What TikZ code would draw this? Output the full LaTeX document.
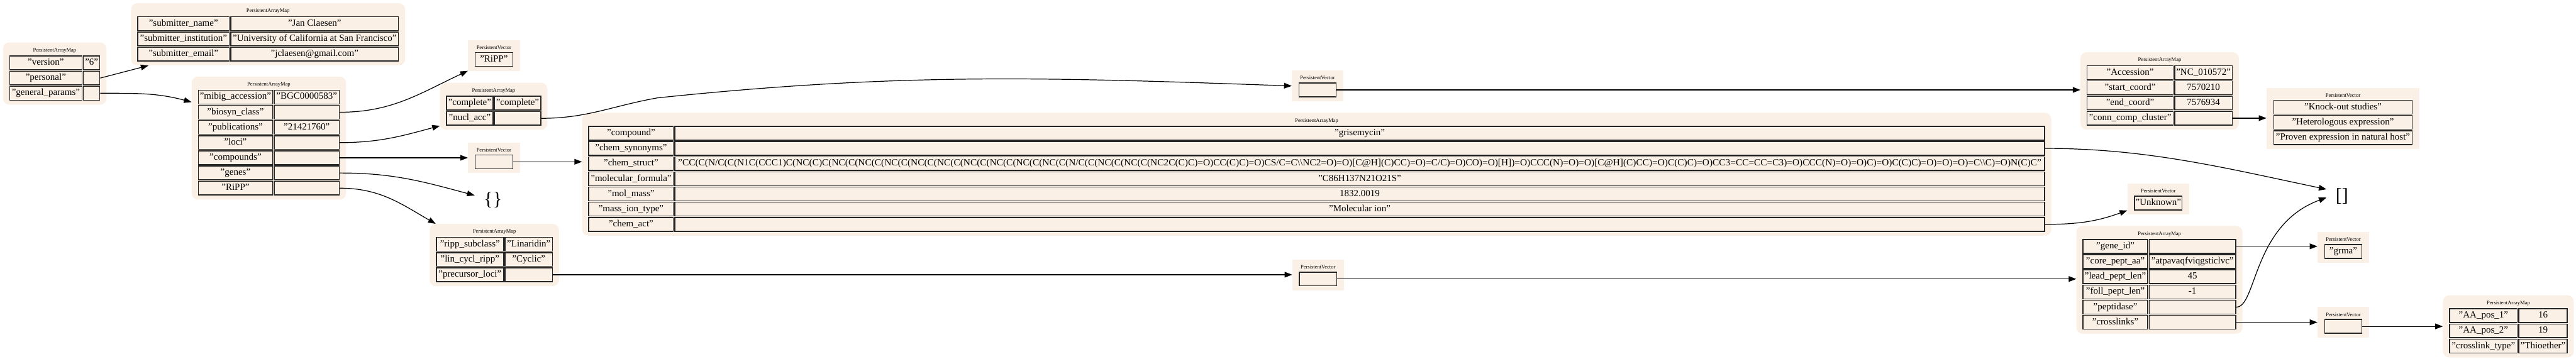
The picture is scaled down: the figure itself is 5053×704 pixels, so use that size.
\documentclass[tikz,border=0pt]{standalone}
\usepackage{fontspec}
\setmainfont{Liberation Serif}
\usetikzlibrary{positioning,arrows.meta,calc,fit,backgrounds}

\definecolor{mapfill}{RGB}{250,240,230}
\newcommand{\cellfont}{\fontsize{18.5}{21}\selectfont}
\newcommand{\ttlfont}{\fontsize{10.5}{12}\selectfont}
\newcommand{\grisesmiles}{"CC(C(N/C(C(N1C(CCC1)C(NC(C)C(NC(C(NC(C(NC(C(NC(C(NC(C(NC(C(NC(C(NC(C(NC(C(N/C(C(NC(C(NC(C(NC2C(C)C)=O)CC(C)C)=O)CS/C=C\textbackslash\textbackslash NC2=O)=O)[C@H](C)CC)=O)=C/C)=O)CO)=O)[H])=O)CCC(N)=O)=O)[C@H](C)CC)=O)C(C)C)=O)CC3=CC=CC=C3)=O)CCC(N)=O)=O)C)=O)C(C)C)=O)=O)=O)=C\textbackslash\textbackslash C)=O)N(C)C"}

\begin{document}
\begin{tikzpicture}[
  x=1pt, y=1pt,
  node distance=1pt,
  fld/.style={draw=black!85, line width=1.8pt, fill=mapfill, minimum width=#1, minimum height=27pt,
    inner xsep=2pt, inner ysep=1pt, text height=13pt, text depth=4pt, font=\cellfont},
  ttl/.style={font=\ttlfont, inner xsep=0pt, inner ysep=3pt, above=2pt},
  mapbg/.style={fill=mapfill, rounded corners=12pt, inner xsep=12pt, inner ysep=8pt},
  vecbg/.style={fill=mapfill, inner xsep=13pt, inner ysep=8pt},
  brk/.style={font=\fontsize{37}{40}\selectfont, inner xsep=18pt, inner ysep=3pt},
  link/.style={-{Triangle[length=15pt, width=11pt]}, line width=1.5pt}
]
\useasboundingbox (0,0) rectangle (5053,-704);

% top-level map
\node[fld=142pt, anchor=north west] (rk1) at (18,-109) {"version"};
\node[fld=142pt, below=of rk1] (rk2) {"personal"};
\node[fld=142pt, below=of rk2] (rk3) {"general\_params"};
\node[fld=32pt, right=of rk1] (rv1) {"6"};
\node[fld=32pt, right=of rk2] (rv2) {};
\node[fld=32pt, right=of rk3] (rv3) {};
\node[ttl] (rt) at ($(rk1.north west)!.5!(rv1.north east)$) {PersistentArrayMap};

% submitter
\node[fld=180pt, anchor=north west] (sk1) at (269,-32) {"submitter\_name"};
\node[fld=180pt, below=of sk1] (sk2) {"submitter\_institution"};
\node[fld=180pt, below=of sk2] (sk3) {"submitter\_email"};
\node[fld=329pt, right=of sk1] (sv1) {"Jan Claesen"};
\node[fld=329pt, right=of sk2] (sv2) {"University of California at San Francisco"};
\node[fld=329pt, right=of sk3] (sv3) {"jclaesen@gmail.com"};
\node[ttl] (st) at ($(sk1.north west)!.5!(sv1.north east)$) {PersistentArrayMap};

% general params
\node[fld=146pt, anchor=north west] (mk1) at (388,-176) {"mibig\_accession"};
\node[fld=146pt, below=of mk1] (mk2) {"biosyn\_class"};
\node[fld=146pt, below=of mk2] (mk3) {"publications"};
\node[fld=146pt, below=of mk3] (mk4) {"loci"};
\node[fld=146pt, below=of mk4] (mk5) {"compounds"};
\node[fld=146pt, below=of mk5] (mk6) {"genes"};
\node[fld=146pt, below=of mk6] (mk7) {"RiPP"};
\node[fld=128pt, right=of mk1] (mv1) {"BGC0000583"};
\node[fld=128pt, right=of mk2] (mv2) {};
\node[fld=128pt, right=of mk3] (mv3) {"21421760"};
\node[fld=128pt, right=of mk4] (mv4) {};
\node[fld=128pt, right=of mk5] (mv5) {};
\node[fld=128pt, right=of mk6] (mv6) {};
\node[fld=128pt, right=of mk7] (mv7) {};
\node[ttl] (mt) at ($(mk1.north west)!.5!(mv1.north east)$) {PersistentArrayMap};

% loci
\node[fld=91pt, anchor=north west] (ck1) at (875,-188) {"complete"};
\node[fld=91pt, below=of ck1] (ck2) {"nucl\_acc"};
\node[fld=91pt, right=of ck1] (cv1) {"complete"};
\node[fld=91pt, right=of ck2] (cv2) {};
\node[ttl] (ct) at ($(ck1.north west)!.5!(cv1.north east)$) {PersistentArrayMap};

% vectors next to the general params
\node[fld=74pt, anchor=north west] (rpc) at (931,-102) {"RiPP"};
\node[ttl] (rpt) at (rpc.north) {PersistentVector};
\node[fld=74pt, anchor=north west] (cpc) at (931,-303) {};
\node[ttl] (cpt) at (cpc.north) {PersistentVector};
\node[brk] (emptymap) at (967,-393) {\{\}};

% RiPP
\node[fld=132pt, anchor=north west] (pk1) at (855,-465) {"ripp\_subclass"};
\node[fld=132pt, below=of pk1] (pk2) {"lin\_cycl\_ripp"};
\node[fld=132pt, below=of pk2] (pk3) {"precursor\_loci"};
\node[fld=93pt, right=of pk1] (pv1) {"Linaridin"};
\node[fld=93pt, right=of pk2] (pv2) {"Cyclic"};
\node[fld=93pt, right=of pk3] (pv3) {};
\node[ttl] (ppt) at ($(pk1.north west)!.5!(pv1.north east)$) {PersistentArrayMap};

% compound
\node[fld=166pt, anchor=north west] (kk1) at (1154,-247) {"compound"};
\node[fld=166pt, below=of kk1] (kk2) {"chem\_synonyms"};
\node[fld=166pt, below=of kk2] (kk3) {"chem\_struct"};
\node[fld=166pt, below=of kk3] (kk4) {"molecular\_formula"};
\node[fld=166pt, below=of kk4] (kk5) {"mol\_mass"};
\node[fld=166pt, below=of kk5] (kk6) {"mass\_ion\_type"};
\node[fld=166pt, below=of kk6] (kk7) {"chem\_act"};
\node[fld=2687pt, right=of kk1] (kv1) {"grisemycin"};
\node[fld=2687pt, right=of kk2] (kv2) {};
\node[fld=2687pt, right=of kk3] (kv3) {\resizebox{2674pt}{\height}{\grisesmiles}};
\node[fld=2687pt, right=of kk4] (kv4) {"C86H137N21O21S"};
\node[fld=2687pt, right=of kk5] (kv5) {1832.0019};
\node[fld=2687pt, right=of kk6] (kv6) {"Molecular ion"};
\node[fld=2687pt, right=of kk7] (kv7) {};
\node[ttl] (kt) at ($(kk1.north west)!.5!(kv1.north east)$) {PersistentArrayMap};

% middle vectors
\node[fld=73pt, anchor=north west] (nvc) at (2547,-162) {};
\node[ttl] (nvt) at (nvc.north) {PersistentVector};
\node[fld=73pt, anchor=north west] (pcc) at (2548,-533) {};
\node[ttl] (pct) at (pcc.north) {PersistentVector};

% accession
\node[fld=169pt, anchor=north west] (ak1) at (4093,-128) {"Accession"};
\node[fld=169pt, below=of ak1] (ak2) {"start\_coord"};
\node[fld=169pt, below=of ak2] (ak3) {"end\_coord"};
\node[fld=169pt, below=of ak3] (ak4) {"conn\_comp\_cluster"};
\node[fld=113pt, right=of ak1] (av1) {"NC\_010572"};
\node[fld=113pt, right=of ak2] (av2) {7570210};
\node[fld=113pt, right=of ak3] (av3) {7576934};
\node[fld=113pt, right=of ak4] (av4) {};
\node[ttl] (acct) at ($(ak1.north west)!.5!(av1.north east)$) {PersistentArrayMap};

% evidence
\node[fld=272pt, anchor=north west] (ev1) at (4459,-196) {"Knock-out studies"};
\node[fld=272pt, below=of ev1] (ev2) {"Heterologous expression"};
\node[fld=272pt, below=of ev2] (ev3) {"Proven expression in natural host"};
\node[ttl] (et) at (ev1.north) {PersistentVector};

\node[fld=92pt, anchor=north west] (unc) at (4186,-384) {"Unknown"};
\node[ttl] (ut) at (unc.north) {PersistentVector};
\node[brk] (emptyvec) at (4594,-385) {[]};

% gene
\node[fld=127pt, anchor=north west] (gk1) at (4085,-469) {"gene\_id"};
\node[fld=127pt, below=of gk1] (gk2) {"core\_pept\_aa"};
\node[fld=127pt, below=of gk2] (gk3) {"lead\_pept\_len"};
\node[fld=127pt, below=of gk3] (gk4) {"foll\_pept\_len"};
\node[fld=127pt, below=of gk4] (gk5) {"peptidase"};
\node[fld=127pt, below=of gk5] (gk6) {"crosslinks"};
\node[fld=170pt, right=of gk1] (gv1) {};
\node[fld=170pt, right=of gk2] (gv2) {"atpavaqfviqgsticlvc"};
\node[fld=170pt, right=of gk3] (gv3) {45};
\node[fld=170pt, right=of gk4] (gv4) {-1};
\node[fld=170pt, right=of gk5] (gv5) {};
\node[fld=170pt, right=of gk6] (gv6) {};
\node[ttl] (gt) at ($(gk1.north west)!.5!(gv1.north east)$) {PersistentArrayMap};

\node[fld=73pt, anchor=north west] (grc) at (4559,-479) {"grma"};
\node[ttl] (grt) at (grc.north) {PersistentVector};
\node[fld=73pt, anchor=north west] (xlc) at (4559,-626) {};
\node[ttl] (xlt) at (xlc.north) {PersistentVector};

% crosslink
\node[fld=133pt, anchor=north west] (xk1) at (4804,-605) {"AA\_pos\_1"};
\node[fld=133pt, below=of xk1] (xk2) {"AA\_pos\_2"};
\node[fld=133pt, below=of xk2] (xk3) {"crosslink\_type"};
\node[fld=95pt, right=of xk1] (xv1) {16};
\node[fld=95pt, right=of xk2] (xv2) {19};
\node[fld=95pt, right=of xk3] (xv3) {"Thioether"};
\node[ttl] (xt) at ($(xk1.north west)!.5!(xv1.north east)$) {PersistentArrayMap};

% backgrounds
\begin{scope}[on background layer]
\node[mapbg, fit=(rt)(rk1)(rv3)] (rbg) {};
\node[mapbg, fit=(st)(sk1)(sv3)] (sbg) {};
\node[mapbg, fit=(mt)(mk1)(mv7)] (mbg) {};
\node[mapbg, fit=(ct)(ck1)(cv2)] (cbg) {};
\node[vecbg, fit=(rpt)(rpc)] (rpbg) {};
\node[vecbg, fit=(cpt)(cpc)] (cpbg) {};
\node[mapbg, fit=(ppt)(pk1)(pv3)] (pbg) {};
\node[mapbg, fit=(kt)(kk1)(kv7)] (kbg) {};
\node[vecbg, fit=(nvt)(nvc)] (nvbg) {};
\node[vecbg, fit=(pct)(pcc)] (pcbg) {};
\node[mapbg, fit=(acct)(ak1)(av4)] (abg) {};
\node[vecbg, fit=(et)(ev1)(ev3)] (ebg) {};
\node[vecbg, fit=(ut)(unc)] (ubg) {};
\node[mapbg, fit=(gt)(gk1)(gv6)] (gbg) {};
\node[vecbg, fit=(grt)(grc)] (grbg) {};
\node[vecbg, fit=(xlt)(xlc)] (xlbg) {};
\node[mapbg, fit=(xt)(xk1)(xv3)] (xbg) {};
\end{scope}

% links
\coordinate (bend) at (1290,-192);
\draw[link] (rv2.east) -- (sbg);
\draw[link] (rv3.east) to[out=0, in=165] (mbg.155);
\draw[link] (mv2.east) to[out=0, in=205] (rpbg.south west);
\draw[link] (mv4.east) to[out=0, in=195] (cbg.200);
\draw[link] (mv5.east) -- (cpbg.west |- mv5.east);
\draw[link] (mv6.east) to[out=0, in=165] (emptymap);
\draw[link] (mv7.east) to[out=0, in=150] (pbg.152);
\draw[link] (cpc.east) -- (kbg.west |- cpc.east);
\draw[link] (cv2.east) to[out=0, in=190] (bend) .. controls +(480,50) and +(-480,17) .. (nvbg.west);
\draw[link] (pv3.east) -- (pcbg.west |- pv3.east);
\draw[link] (pcc.east) -- (gbg.west |- pcc.east);
\draw[link] (nvc.east) -- (abg.west |- nvc.east);
\draw[link] (av4.east) -- (ebg.west |- av4.east);
\draw[link] (kv2.east) .. controls +(200,0) and +(-200,42) .. (emptyvec.156);
\draw[link] (kv7.east) to[out=0, in=200] (ubg.200);
\draw[link] (gv1.east) -- (grbg.west |- gv1.east);
\draw[link] (gv5.east) .. controls +(40,0) and +(-145,-53) .. (emptyvec.185);
\draw[link] (gv6.east) -- (xlbg.west |- gv6.east);
\draw[link] (xlc.east) -- (xbg.west |- xlc.east);

\end{tikzpicture}
\end{document}
